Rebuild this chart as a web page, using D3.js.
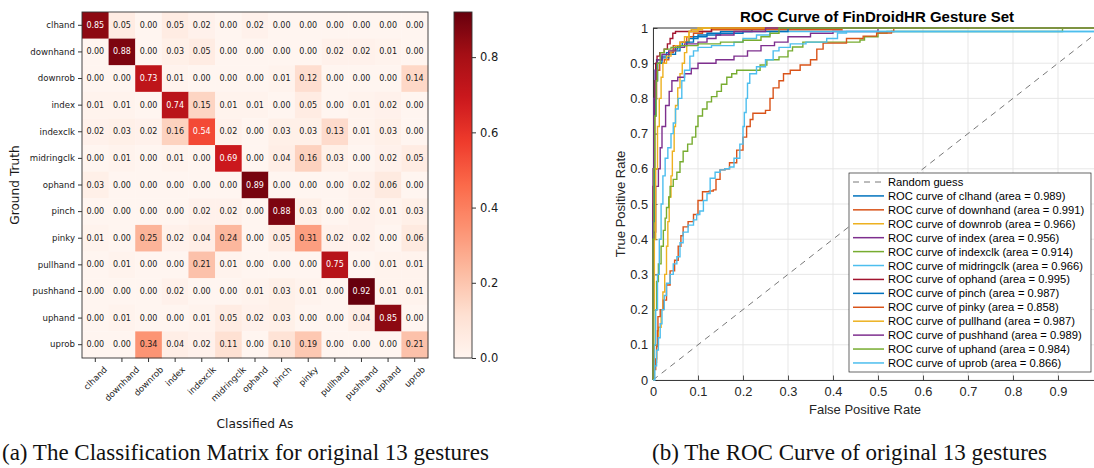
<!DOCTYPE html>
<html><head><meta charset="utf-8">
<script src="https://cdn.jsdelivr.net/npm/d3@7"></script>
<style>
html,body{margin:0;padding:0;background:#fff;}
svg{display:block;}
</style></head><body>
<svg id="fig" width="1094" height="468"></svg>
<script>
// ---------- data ----------
const gestures = ["clhand","downhand","downrob","index","indexclk","midringclk","ophand","pinch","pinky","pullhand","pushhand","uphand","uprob"];

// rows: ground truth, columns: classified as
const confusion = [
  [0.85,0.05,0.00,0.05,0.02,0.00,0.02,0.00,0.00,0.00,0.00,0.00,0.00],
  [0.00,0.88,0.00,0.03,0.05,0.00,0.00,0.00,0.00,0.02,0.02,0.01,0.00],
  [0.00,0.00,0.73,0.01,0.00,0.00,0.00,0.01,0.12,0.00,0.00,0.00,0.14],
  [0.01,0.01,0.00,0.74,0.15,0.01,0.01,0.00,0.05,0.00,0.01,0.02,0.00],
  [0.02,0.03,0.02,0.16,0.54,0.02,0.00,0.03,0.03,0.13,0.01,0.03,0.00],
  [0.00,0.01,0.00,0.01,0.00,0.69,0.00,0.04,0.16,0.03,0.00,0.02,0.05],
  [0.03,0.00,0.00,0.00,0.00,0.00,0.89,0.00,0.00,0.00,0.02,0.06,0.00],
  [0.00,0.00,0.00,0.00,0.02,0.02,0.00,0.88,0.03,0.00,0.02,0.01,0.03],
  [0.01,0.00,0.25,0.02,0.04,0.24,0.00,0.05,0.31,0.02,0.02,0.00,0.06],
  [0.00,0.01,0.00,0.00,0.21,0.01,0.00,0.00,0.00,0.75,0.00,0.01,0.01],
  [0.00,0.00,0.00,0.02,0.00,0.00,0.01,0.03,0.01,0.00,0.92,0.01,0.01],
  [0.00,0.01,0.00,0.00,0.01,0.05,0.02,0.03,0.00,0.00,0.04,0.85,0.00],
  [0.00,0.00,0.34,0.04,0.02,0.11,0.00,0.10,0.19,0.00,0.00,0.00,0.21]
];
const colorbarTicks = [0, 0.2, 0.4, 0.6, 0.8];

const rocGrid = [0,0.1,0.2,0.3,0.4,0.5,0.6,0.7,0.8,0.9,1];
const rocXTicks = [0,0.1,0.2,0.3,0.4,0.5,0.6,0.7,0.8,0.9];
const rocYTicks = [0,0.1,0.2,0.3,0.4,0.5,0.6,0.7,0.8,0.9,1];
const rocAreas = [0.989,0.991,0.966,0.956,0.914,0.966,0.995,0.987,0.858,0.987,0.989,0.984,0.866];

// ROC points per gesture: [false positive rate, true positive rate]
const rocClhand = [[0,0],[0,0.5],[0.002,0.8],[0.005,0.88],[0.008,0.91],[0.02,0.92],[0.03,0.93],[0.045,0.94],[0.055,0.95],[0.065,0.96],[0.08,0.97],[0.1,0.98],[0.15,0.99],[0.22,1],[1,1]];
const rocDownhand = [[0,0],[0,0.3],[0.002,0.6],[0.004,0.8],[0.008,0.88],[0.015,0.9],[0.025,0.91],[0.035,0.93],[0.045,0.95],[0.06,0.96],[0.075,0.975],[0.09,0.985],[0.11,0.99],[0.13,0.995],[0.42,1],[1,1]];
const rocDownrob = [[0,0],[0.002,0.05],[0.008,0.1],[0.012,0.15],[0.018,0.2],[0.022,0.25],[0.026,0.3],[0.03,0.38],[0.033,0.45],[0.036,0.52],[0.04,0.58],[0.043,0.65],[0.047,0.72],[0.05,0.78],[0.055,0.83],[0.06,0.87],[0.065,0.9],[0.07,0.93],[0.075,0.96],[0.08,0.99],[0.085,0.995],[0.11,1],[1,1]];
const rocIndex = [[0,0],[0,0.3],[0.002,0.42],[0.006,0.55],[0.012,0.6],[0.016,0.66],[0.02,0.72],[0.028,0.78],[0.036,0.82],[0.042,0.85],[0.055,0.86],[0.07,0.87],[0.085,0.885],[0.1,0.9],[0.14,0.91],[0.18,0.92],[0.21,0.935],[0.24,0.95],[0.27,0.96],[0.3,0.975],[0.35,0.985],[0.4,0.99],[0.5,1],[1,1]];
const rocIndexclk = [[0,0],[0.002,0.1],[0.005,0.2],[0.008,0.28],[0.012,0.33],[0.018,0.38],[0.023,0.425],[0.027,0.46],[0.03,0.49],[0.035,0.52],[0.038,0.55],[0.045,0.57],[0.053,0.59],[0.06,0.62],[0.067,0.65],[0.077,0.67],[0.087,0.69],[0.095,0.72],[0.1,0.75],[0.11,0.77],[0.12,0.79],[0.13,0.805],[0.142,0.82],[0.152,0.84],[0.164,0.86],[0.175,0.87],[0.186,0.88],[0.226,0.88],[0.238,0.895],[0.253,0.91],[0.28,0.918],[0.3,0.935],[0.31,0.946],[0.333,0.96],[0.46,0.966],[0.47,0.975],[0.5,0.986],[0.52,0.99],[0.91,1],[1,1]];
const rocMidringclk = [[0,0],[0.003,0.1],[0.006,0.2],[0.01,0.3],[0.014,0.4],[0.018,0.5],[0.022,0.58],[0.027,0.63],[0.033,0.66],[0.04,0.7],[0.045,0.73],[0.05,0.77],[0.056,0.8],[0.064,0.85],[0.07,0.88],[0.082,0.92],[0.09,0.935],[0.1,0.945],[0.13,0.95],[0.18,0.96],[0.2,0.97],[0.23,0.98],[0.26,0.99],[1,0.99]];
const rocOphand = [[0,0],[0,0.55],[0.002,0.75],[0.004,0.85],[0.006,0.9],[0.009,0.92],[0.015,0.93],[0.025,0.94],[0.032,0.955],[0.038,0.97],[0.044,0.985],[0.05,0.99],[0.13,1],[1,1]];
const rocPinch = [[0,0],[0,0.45],[0.003,0.75],[0.006,0.85],[0.01,0.9],[0.02,0.915],[0.035,0.925],[0.05,0.935],[0.06,0.95],[0.075,0.96],[0.09,0.975],[0.12,0.985],[0.2,0.99],[0.3,1],[1,1]];
const rocPinky = [[0,0],[0.003,0.03],[0.006,0.06],[0.008,0.095],[0.01,0.14],[0.011,0.18],[0.016,0.2],[0.023,0.227],[0.03,0.27],[0.038,0.31],[0.048,0.34],[0.056,0.38],[0.062,0.41],[0.067,0.435],[0.078,0.45],[0.09,0.47],[0.1,0.51],[0.11,0.535],[0.125,0.537],[0.134,0.54],[0.14,0.57],[0.149,0.597],[0.16,0.6],[0.17,0.617],[0.186,0.653],[0.2,0.69],[0.208,0.72],[0.216,0.74],[0.222,0.758],[0.25,0.766],[0.26,0.8],[0.267,0.83],[0.28,0.85],[0.29,0.87],[0.305,0.88],[0.327,0.895],[0.35,0.91],[0.364,0.94],[0.378,0.957],[0.43,0.97],[0.467,0.977],[0.497,0.986],[0.53,0.99],[0.535,1],[1,1]];
const rocPullhand = [[0,0],[0.001,0.2],[0.003,0.4],[0.006,0.6],[0.01,0.72],[0.014,0.8],[0.018,0.86],[0.022,0.9],[0.03,0.92],[0.04,0.935],[0.05,0.95],[0.06,0.96],[0.07,0.975],[0.08,0.99],[0.1,1],[1,1]];
const rocPushhand = [[0,0],[0,0.6],[0.002,0.8],[0.005,0.88],[0.01,0.91],[0.02,0.925],[0.035,0.935],[0.05,0.945],[0.07,0.955],[0.1,0.96],[0.12,0.97],[0.14,0.98],[0.18,0.99],[0.25,1],[1,1]];
const rocUphand = [[0,0],[0,0.4],[0.002,0.6],[0.004,0.75],[0.007,0.85],[0.01,0.9],[0.016,0.93],[0.025,0.94],[0.04,0.945],[0.06,0.95],[0.1,0.955],[0.15,0.96],[0.2,0.965],[0.24,0.975],[0.26,0.985],[0.28,1],[1,1]];
const rocUprob = [[0,0],[0.004,0.04],[0.008,0.085],[0.012,0.12],[0.016,0.16],[0.02,0.2],[0.025,0.24],[0.03,0.275],[0.038,0.3],[0.045,0.33],[0.053,0.35],[0.06,0.39],[0.067,0.42],[0.078,0.44],[0.09,0.455],[0.097,0.47],[0.104,0.48],[0.112,0.51],[0.12,0.53],[0.127,0.573],[0.138,0.59],[0.149,0.597],[0.16,0.6],[0.17,0.605],[0.18,0.63],[0.193,0.67],[0.2,0.72],[0.203,0.76],[0.207,0.8],[0.21,0.843],[0.215,0.87],[0.23,0.89],[0.25,0.91],[0.267,0.935],[0.28,0.945],[0.305,0.955],[0.34,0.96],[0.386,0.97],[0.41,0.986],[0.43,0.99],[1,0.99]];

const rocCurves = [rocClhand,rocDownhand,rocDownrob,rocIndex,rocIndexclk,rocMidringclk,rocOphand,rocPinch,rocPinky,rocPullhand,rocPushhand,rocUphand,rocUprob];

// ---------- drawing ----------
const svg = d3.select("#fig");
svg.append("rect").attr("width",1094).attr("height",468).attr("fill","#fff");

const SANS_MPL = "'DejaVu Sans', sans-serif";
const SANS_ML = "'Liberation Sans', Arial, sans-serif";
const INK = "#262626";

// ===== Confusion matrix (left) =====
const vmax = d3.max(confusion.flat());
const reds = ["#fff5f0","#fee0d2","#fcbba1","#fc9272","#fb6a4a","#ef3b2c","#cb181d","#a50f15","#67000d"];
const color = d3.scaleLinear()
  .domain(reds.map((_, i) => i * vmax / (reds.length - 1)))
  .range(reds).interpolate(d3.interpolateRgb).clamp(true);

const mx = d3.scaleBand().domain(gestures).range([82, 428]);
const my = d3.scaleBand().domain(gestures).range([12, 358]);

const cm = svg.append("g");
const cells = [];
confusion.forEach((row, r) => row.forEach((v, c) => cells.push({r, c, v})));

cm.selectAll("rect.cell").data(cells).join("rect")
  .attr("class","cell")
  .attr("x", d => mx(gestures[d.c]))
  .attr("y", d => my(gestures[d.r]))
  .attr("width", mx.bandwidth() + 0.3)
  .attr("height", my.bandwidth() + 0.3)
  .attr("fill", d => color(d.v));

cm.selectAll("text.val").data(cells).join("text")
  .attr("class","val")
  .attr("x", d => mx(gestures[d.c]) + mx.bandwidth()/2)
  .attr("y", d => my(gestures[d.r]) + my.bandwidth()/2)
  .attr("text-anchor","middle").attr("dominant-baseline","central")
  .attr("font-family", SANS_MPL).attr("font-size", 8)
  .attr("fill", d => d.v > vmax/2 ? "#fff" : "#1a1a1a")
  .text(d => d.v.toFixed(2));

cm.append("rect").attr("x",82).attr("y",12).attr("width",346).attr("height",346)
  .attr("fill","none").attr("stroke","#333").attr("stroke-width",0.9);

// row labels (ground truth)
const yAx = cm.append("g").attr("transform","translate(82,0)")
  .call(d3.axisLeft(my).tickSize(4).tickPadding(3));
yAx.select(".domain").remove();
yAx.selectAll("line").attr("stroke","#333");
yAx.selectAll("text").attr("font-family",SANS_MPL).attr("font-size",8.6).attr("fill","#1a1a1a");

// column labels (classified as), rotated 45 degrees
const xAx = cm.append("g").attr("transform","translate(0,358)")
  .call(d3.axisBottom(mx).tickSize(4).tickFormat(""));
xAx.select(".domain").remove();
xAx.selectAll("line").attr("stroke","#333");
const fsX = 8.6;
gestures.forEach(g => {
  const t = cm.append("text")
    .attr("font-family",SANS_MPL).attr("font-size",fsX).attr("fill","#1a1a1a")
    .attr("text-anchor","middle").attr("dominant-baseline","central")
    .text(g);
  const L = t.node().getComputedTextLength();
  const half = (L + fsX) * Math.SQRT1_2 / 2;
  const cx = mx(g) + mx.bandwidth()/2;
  t.attr("transform", `translate(${cx},${365 + half}) rotate(-45)`);
});

cm.append("text").attr("x",255).attr("y",428).attr("text-anchor","middle")
  .attr("font-family",SANS_MPL).attr("font-size",12.2).attr("fill","#1a1a1a")
  .text("Classified As");
cm.append("text").attr("transform","translate(15,185) rotate(-90)")
  .attr("text-anchor","middle").attr("dominant-baseline","central")
  .attr("font-family",SANS_MPL).attr("font-size",12.2).attr("fill","#1a1a1a")
  .text("Ground Truth");

// colour bar
const cbY = d3.scaleLinear().domain([0, vmax]).range([358, 12]);
const defs = svg.append("defs");
const grad = defs.append("linearGradient").attr("id","cbGrad")
  .attr("x1",0).attr("y1",1).attr("x2",0).attr("y2",0);
d3.range(0, 1.0001, 0.02).forEach(t => {
  grad.append("stop").attr("offset", t).attr("stop-color", color(t * vmax));
});
svg.append("rect").attr("x",454).attr("y",12).attr("width",18).attr("height",346)
  .attr("fill","url(#cbGrad)").attr("stroke","#333").attr("stroke-width",0.9);
const cbAx = svg.append("g").attr("transform","translate(472,0)")
  .call(d3.axisRight(cbY).tickValues(colorbarTicks).tickFormat(d3.format(".1f")).tickSize(4).tickPadding(4));
cbAx.select(".domain").remove();
cbAx.selectAll("line").attr("stroke","#333");
cbAx.selectAll("text").attr("font-family",SANS_MPL).attr("font-size",11.5).attr("fill","#1a1a1a");

// ===== ROC curves (right) =====
const rx = d3.scaleLinear().domain([0,1]).range([653, 1103]);
const ry = d3.scaleLinear().domain([0,1]).range([380, 28]);
const roc = svg.append("g");

// grid
roc.selectAll("line.gx").data(rocGrid).join("line")
  .attr("x1", d => rx(d)).attr("x2", d => rx(d)).attr("y1", ry(0)).attr("y2", ry(1))
  .attr("stroke","#e4e4e4").attr("stroke-width",0.9);
roc.selectAll("line.gy").data(rocGrid).join("line")
  .attr("y1", d => ry(d)).attr("y2", d => ry(d)).attr("x1", rx(0)).attr("x2", rx(1))
  .attr("stroke","#e4e4e4").attr("stroke-width",0.9);

// axes box with inward ticks
const tickFmt = d => d === 0 ? "0" : d === 1 ? "1" : d.toFixed(1);
const bx = roc.append("g").attr("transform",`translate(0,${ry(0)})`)
  .call(d3.axisBottom(rx).tickValues(rocXTicks).tickFormat(tickFmt).tickSize(-4.5).tickPadding(7).tickSizeOuter(0));
const by = roc.append("g").attr("transform",`translate(${rx(0)},0)`)
  .call(d3.axisLeft(ry).tickValues(rocYTicks).tickFormat(tickFmt).tickSize(-4.5).tickPadding(5).tickSizeOuter(0));
[bx, by].forEach(a => {
  a.select(".domain").attr("stroke",INK).attr("stroke-width",0.9);
  a.selectAll("line").attr("stroke",INK).attr("stroke-width",0.8);
  a.selectAll("text").attr("font-family",SANS_ML).attr("font-size",12.8).attr("fill",INK);
});
roc.append("line").attr("x1",rx(0)).attr("x2",rx(1)).attr("y1",ry(1)).attr("y2",ry(1))
  .attr("stroke",INK).attr("stroke-width",0.9);

// chance diagonal
const lineGen = d3.line().x(d => rx(d[0])).y(d => ry(d[1]));
roc.append("path").attr("d", lineGen([[0,0],[1,1]]))
  .attr("fill","none").attr("stroke","#555").attr("stroke-width",0.8).attr("stroke-dasharray","6,5");

const palette = ["#0072BD","#D95319","#EDB120","#7E2F8E","#77AC30","#4DBEEE","#A2142F"];
const stepGen = d3.line().x(d => rx(d[0])).y(d => ry(d[1])).curve(d3.curveStepAfter);
rocCurves.forEach((pts, i) => {
  roc.append("path").attr("d", stepGen(pts))
    .attr("fill","none").attr("stroke", palette[i % palette.length])
    .attr("stroke-width",1.4).attr("stroke-linejoin","miter");
});

// titles and labels
roc.append("text").attr("x",877).attr("y",22).attr("text-anchor","middle")
  .attr("font-family",SANS_ML).attr("font-weight","bold").attr("font-size",15).attr("fill","#000")
  .text("ROC Curve of FinDroidHR Gesture Set");
roc.append("text").attr("x",865).attr("y",414).attr("text-anchor","middle")
  .attr("font-family",SANS_ML).attr("font-size",13).attr("fill",INK)
  .text("False Positive Rate");
roc.append("text").attr("transform","translate(620,204) rotate(-90)")
  .attr("text-anchor","middle").attr("dominant-baseline","central")
  .attr("font-family",SANS_ML).attr("font-size",13).attr("fill",INK)
  .text("True Positive Rate");

// legend
const lg = roc.append("g");
lg.append("rect").attr("x",849).attr("y",173).attr("width",242).attr("height",199)
  .attr("fill","#fff").attr("stroke",INK).attr("stroke-width",0.7);
const legendRows = [{label:"Random guess", dash:true, color:"#555"}]
  .concat(gestures.map((g, i) => ({label:`ROC curve of ${g} (area = ${rocAreas[i].toFixed(3)})`, dash:false, color:palette[i % palette.length]})));
legendRows.forEach((row, i) => {
  const y = 182 + i * 13.92;
  lg.append("line").attr("x1",853).attr("x2",884).attr("y1",y).attr("y2",y)
    .attr("stroke",row.color).attr("stroke-width",row.dash ? 0.8 : 1.5)
    .attr("stroke-dasharray",row.dash ? "6,5" : null);
  lg.append("text").attr("x",888).attr("y",y).attr("dominant-baseline","central")
    .attr("font-family",SANS_ML).attr("font-size",11.2).attr("fill","#000")
    .text(row.label);
});

// captions
svg.append("text").attr("x",2).attr("y",460)
  .attr("font-family","'Liberation Serif', serif").attr("font-size",23).attr("fill","#111")
  .text("(a) The Classification Matrix for original 13 gestures");
svg.append("text").attr("x",652).attr("y",460)
  .attr("font-family","'Liberation Serif', serif").attr("font-size",23).attr("fill","#111")
  .text("(b) The ROC Curve of original 13 gestures");
</script></body></html>
